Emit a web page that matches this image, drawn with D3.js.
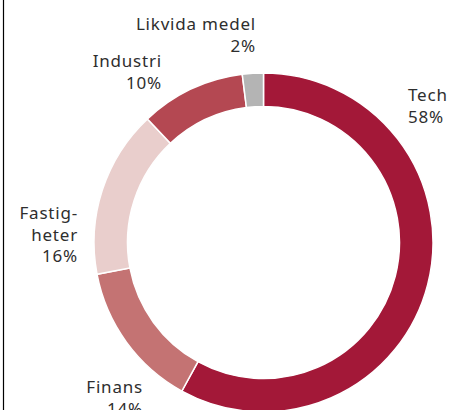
<!DOCTYPE html>
<html>
<head>
<meta charset="utf-8">
<script src="https://cdn.jsdelivr.net/npm/d3@7"></script>
<style>
  html, body { margin: 0; padding: 0; background: #fff; }
  svg { display: block; }
  text { font-family: "Noto Sans", sans-serif; font-size: 17px; fill: #2e2e2e; letter-spacing: 0.8px; }
</style>
</head>
<body>
<svg id="chart" width="451" height="410"></svg>
<script>
// andelar per sektor, medurs från toppen
let categories = ["Tech", "Finans", "Fastigheter", "Industri", "Likvida medel"];
let shares = [58, 14, 16, 10, 2];
let labelLines = [["Tech"], ["Finans"], ["Fastig-", "heter"], ["Industri"], ["Likvida medel"]];
let colors = ["#a31838", "#c47373", "#e9cecc", "#b44852", "#b4b4b4"];

let width = 451, height = 410;
let cx = 263.5, cy = 242.5;
let outerR = 169.5, innerR = 136;
let lineH = 21.5;

// ankarpunkt för etiketterna (sista raden = procent)
let labelAnchor = [
    {x: 408, y: 101, anchor: "start"},
    {x: 143, y: 393, anchor: "end"},
    {x: 78, y: 219, anchor: "end"},
    {x: 162, y: 67, anchor: "end"},
    {x: 256, y: 30, anchor: "end"}
];

let svg = d3.select("#chart");

// ram till vänster
svg.append("line")
    .attr("x1", 3.5).attr("x2", 3.5)
    .attr("y1", 0).attr("y2", height)
    .style("stroke", "#000")
    .style("stroke-width", 1.2);

let data = categories.map((c, i) => ({name: c, value: shares[i], i: i}));

let pie = d3.pie()
    .sort(null)
    .value(d => d.value)
    .startAngle(0)
    .endAngle(2 * Math.PI);

let arc = d3.arc()
    .innerRadius(innerR)
    .outerRadius(outerR);

let g = svg.append("g")
    .attr("transform", "translate(" + cx + "," + cy + ")");

g.selectAll("path.slice")
    .data(pie(data))
    .enter()
    .append("path")
    .attr("class", "slice")
    .attr("d", arc)
    .style("fill", d => colors[d.data.i])
    .style("stroke", "#fff")
    .style("stroke-width", 1.5);

let labels = svg.selectAll("text.label")
    .data(data)
    .enter()
    .append("text")
    .attr("class", "label")
    .attr("text-anchor", d => labelAnchor[d.i].anchor);

labels.each(function(d){
    let t = d3.select(this);
    let lines = labelLines[d.i].concat([d.value + "%"]);
    let a = labelAnchor[d.i];
    lines.forEach((l, j) => {
        t.append("tspan")
            .attr("x", a.x)
            .attr("y", a.y + j * lineH)
            .text(l);
    });
});
</script>
</body>
</html>
